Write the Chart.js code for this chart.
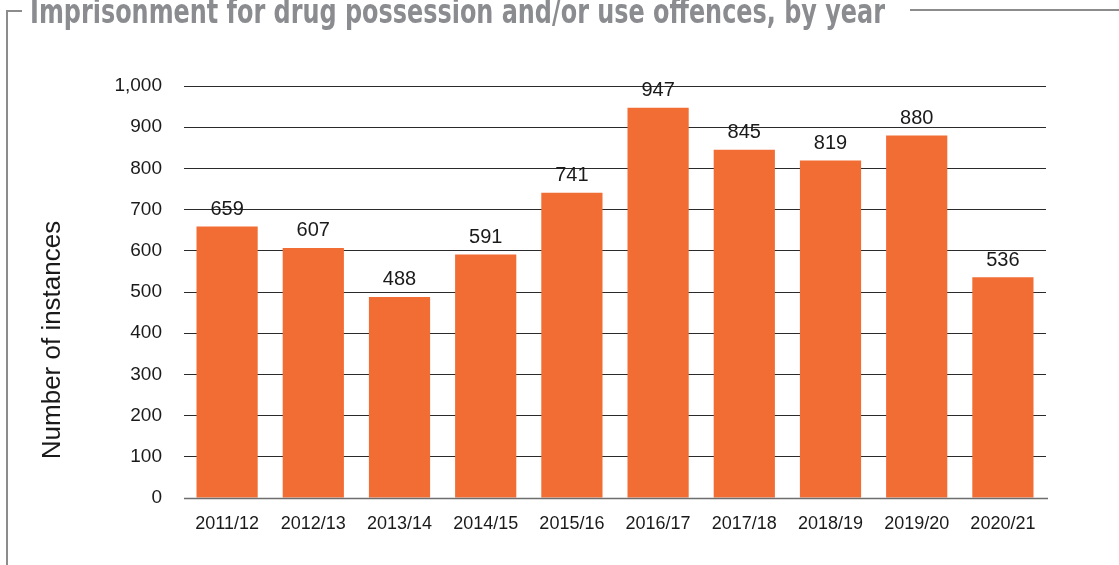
<!DOCTYPE html>
<html>
<head>
<meta charset="utf-8">
<script src="https://cdn.jsdelivr.net/npm/chart.js@4/dist/chart.umd.min.js"></script>
<style>
    html, body { margin: 0; padding: 0; background: #fff; }
    #wrap { width: 1119px; height: 565px; position: relative; }
</style>
</head>
<body>
<div id="wrap"><canvas id="myChart" width="1119" height="565"></canvas></div>
<script>
// chart data
const years = ['2011/12', '2012/13', '2013/14', '2014/15', '2015/16', '2016/17', '2017/18', '2018/19', '2019/20', '2020/21'];
const instances = [659, 607, 488, 591, 741, 947, 845, 819, 880, 536];
const yTicks = [0, 100, 200, 300, 400, 500, 600, 700, 800, 900, 1000];
const titleText = 'Imprisonment for drug possession and/or use offences, by year';
const yAxisTitle = 'Number of instances';

const textFont = "'Liberation Sans', Arial, sans-serif";

// frame lines + cut-off title drawn behind the chart
const framePlugin = {
    id: 'frame',
    beforeDraw(chart) {
        const ctx = chart.ctx;
        ctx.save();
        ctx.strokeStyle = '#8c8c8c';
        ctx.lineWidth = 2;
        ctx.beginPath();
        ctx.moveTo(7, 565);
        ctx.lineTo(7, 11);
        ctx.lineTo(22, 11);
        ctx.moveTo(910, 10);
        ctx.lineTo(1119, 10);
        ctx.stroke();

        ctx.font = "bold 34px 'Liberation Sans Narrow', 'DejaVu Sans Condensed', sans-serif";
        ctx.fillStyle = '#8a8c8f';
        ctx.textBaseline = 'alphabetic';
        const w = ctx.measureText(titleText).width;
        const sx = 855 / w;
        ctx.translate(30, 23);
        ctx.scale(sx, 1);
        ctx.fillText(titleText, 0, 0);
        ctx.restore();

        // y axis title (sits a bit lower than the plot centre)
        ctx.save();
        ctx.font = '26px ' + textFont;
        ctx.fillStyle = '#1a1a1a';
        ctx.textAlign = 'center';
        ctx.textBaseline = 'middle';
        ctx.translate(53, 340);
        ctx.rotate(-Math.PI / 2);
        ctx.fillText(yAxisTitle, 0, 0);
        ctx.restore();
    }
};

// value labels above bars and the zero baseline on top of the bars
const labelPlugin = {
    id: 'barLabels',
    afterDatasetsDraw(chart) {
        const ctx = chart.ctx;
        const meta = chart.getDatasetMeta(0);
        const yScale = chart.scales.y;
        ctx.save();
        ctx.font = '20px ' + textFont;
        ctx.fillStyle = '#1a1a1a';
        ctx.textAlign = 'center';
        ctx.textBaseline = 'middle';
        meta.data.forEach((bar, i) => {
            ctx.fillText(String(instances[i]), bar.x, bar.y - 17);
        });
        const y0 = Math.round(yScale.getPixelForValue(0)) + 0.5;
        ctx.strokeStyle = '#6e6e6e';
        ctx.lineWidth = 1.5;
        ctx.beginPath();
        ctx.moveTo(chart.chartArea.left, y0);
        ctx.lineTo(chart.chartArea.right + 2, y0);
        ctx.stroke();
        ctx.restore();
    }
};

const ctx = document.getElementById('myChart').getContext('2d');
const chart = new Chart(ctx, {
    type: 'bar',
    data: {
        labels: years,
        datasets: [{
            data: instances,
            backgroundColor: '#f26d33',
            borderWidth: 0,
            categoryPercentage: 1.0,
            barPercentage: 0.71
        }]
    },
    options: {
        responsive: false,
        animation: false,
        layout: {
            padding: { left: 0, right: 73, top: 86, bottom: 0 }
        },
        plugins: {
            legend: { display: false },
            title: { display: false },
            tooltip: { enabled: false }
        },
        scales: {
            x: {
                grid: { display: false, drawTicks: false },
                border: { display: false },
                ticks: {
                    color: '#1a1a1a',
                    padding: 15,
                    maxRotation: 0,
                    font: { family: textFont, size: 18 }
                },
                afterFit: (scale) => { scale.height = 67; }
            },
            y: {
                min: 0,
                max: 1000,
                afterBuildTicks: (scale) => {
                    scale.ticks = yTicks.map(v => ({ value: v }));
                },
                grid: {
                    color: '#2b2b2b',
                    lineWidth: 1,
                    drawTicks: false
                },
                border: { display: false },
                ticks: {
                    color: '#1a1a1a',
                    padding: 22,
                    font: { family: textFont, size: 19 },
                    callback: (v) => v.toLocaleString('en-US')
                },
                afterFit: (scale) => { scale.width = 184; }
            }
        }
    },
    plugins: [framePlugin, labelPlugin]
});
</script>
</body>
</html>
